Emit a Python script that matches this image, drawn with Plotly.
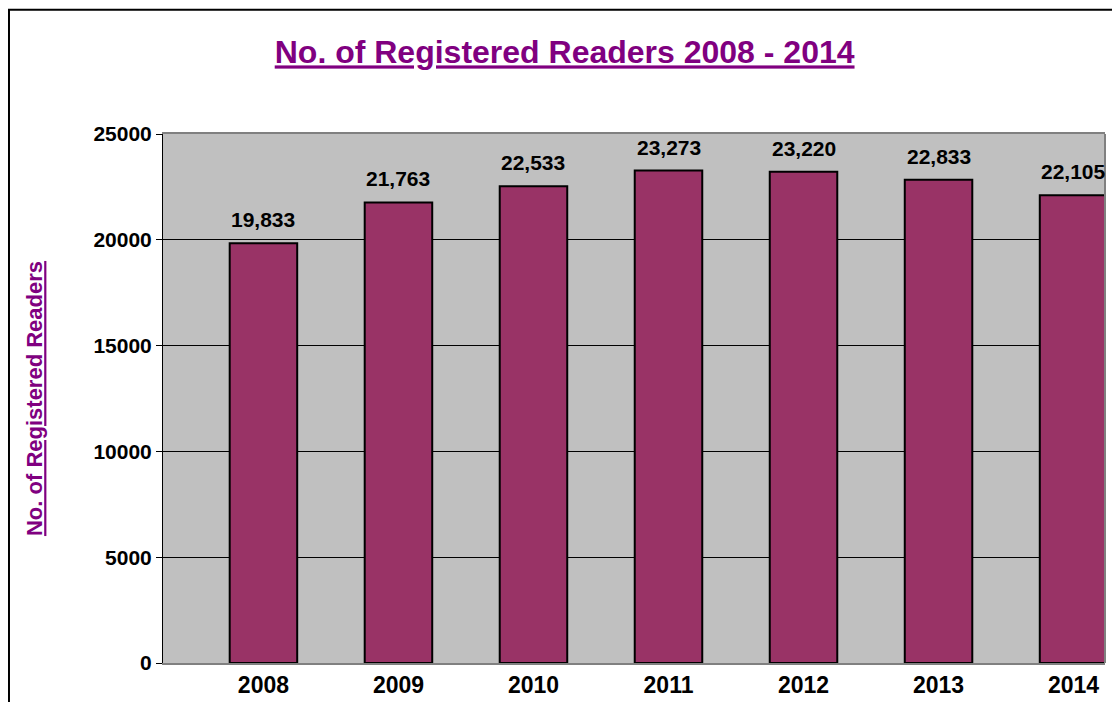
import plotly.graph_objects as go

years = ["2008", "2009", "2010", "2011", "2012", "2013", "2014"]
readers = [19833, 21763, 22533, 23273, 23220, 22833, 22105]
y_ticks = [0, 5000, 10000, 15000, 20000, 25000]

PURPLE = "#800080"
FONT = "Liberation Sans, Arial, sans-serif"

fig = go.Figure()
fig.add_trace(go.Bar(
    x=list(range(len(years))), y=readers, width=0.5,
    marker=dict(color="#993366", line=dict(color="black", width=2)),
    hoverinfo="skip",
))

for i, v in enumerate(readers):
    fig.add_annotation(x=i, y=v, text=f"<b>{v:,}</b>", showarrow=False,
                       yanchor="bottom", yshift=10,
                       font=dict(family=FONT, size=21, color="black"))

fig.update_layout(
    width=1120, height=702,
    margin=dict(l=155, r=23, t=126, b=43),
    paper_bgcolor="white", plot_bgcolor="#C0C0C0",
    showlegend=False,
    font=dict(family=FONT, color="black"),
    title=dict(text="<b><u>No. of Registered Readers 2008 - 2014</u></b>",
               x=0.497, xanchor="center", y=0.937, yanchor="middle",
               font=dict(family=FONT, size=32, color=PURPLE)),
    xaxis=dict(range=[-0.744, 6.233], tickmode="array",
               tickvals=list(range(len(years))), ticktext=[f"<b>{y}</b>" for y in years],
               tickfont=dict(family=FONT, size=23, color="black"),
               showline=True, linecolor="#808080", linewidth=2, mirror=True,
               showgrid=False, ticks="", zeroline=False),
    yaxis=dict(range=[0, 25000], tickmode="array", tickvals=y_ticks,
               ticktext=[f"<b>{t}</b>" for t in y_ticks],
               tickfont=dict(family=FONT, size=21, color="black"),
               ticks="outside", ticklen=6, tickcolor="black",
               showline=True, linecolor="black", linewidth=1,
               showgrid=True, gridcolor="black", gridwidth=1, zeroline=False,
               title=dict(text="<b><u>No. of Registered Readers</u></b>",
                          font=dict(family=FONT, size=22, color=PURPLE), standoff=44)),
)

# right edge of plot area (grey)
fig.add_shape(type="line", xref="paper", yref="paper", x0=1, x1=1, y0=0, y1=1,
              line=dict(color="#808080", width=2))
# outer chart border
fig.add_shape(type="rect", xref="paper", yref="paper",
              x0=-0.1635, x1=1.05, y0=-0.2, y1=1.235,
              line=dict(color="black", width=2), layer="above")

fig.write_html("out.html")
